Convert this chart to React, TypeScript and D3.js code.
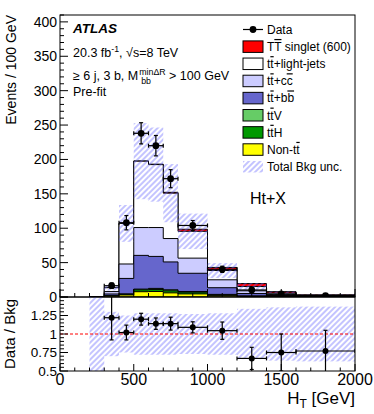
import React from 'react';
import * as d3 from 'd3';

// ---------- data ----------
const binEdges = [200, 300, 400, 500, 600, 700, 800, 1000, 1200, 1400, 1600, 2000];
// individual contributions, events / 100 GeV
const nonTT = [0, 1.5, 3, 7.7, 8, 6, 4.5, 2, 0.8, 0.3, 0.1];
const ttH = [0, 0.2, 1, 2.8, 3, 3, 2.5, 1, 0.4, 0.2, 0.1];
const ttV = [0, 0.2, 0.5, 1, 1.5, 1.5, 1, 0.8, 0.3, 0.1, 0.05];
const ttbb = [0, 2.5, 22.5, 49, 46.5, 40.5, 26.5, 9.7, 3.5, 1.6, 0.55];
const ttcc = [0, 3.5, 21, 40.5, 42, 34, 22, 11.5, 4, 1.3, 0.5];
const ttlight = [0, 5.6, 59, 96.5, 91.5, 66, 39, 13.5, 6.2, 2.4, 1.2];
const signal = [0, 0, 0, 0.3, 0.6, 1.2, 3, 4.5, 4.3, 1.9, 0.7];
const relUnc = [1, 0.3, 0.25, 0.28, 0.28, 0.28, 0.27, 0.28, 0.34, 0.36, 0.37];
const dataVals = [null, 16.4, 108, 238, 220, 172, 104, 40.3, 10.2, 4.4, 1.93];
const dataErr = [0, 4, 10.4, 15.4, 14.8, 13.1, 7.2, 4.5, 2.3, 1.5, 0.7];
const ratioVals = [null, 1.22, 1.02, 1.2, 1.14, 1.14, 1.09, 1.045, 0.67, 0.75, 0.77];
const ratioErr = [0, 0.3, 0.1, 0.08, 0.077, 0.087, 0.075, 0.117, 0.15, 0.25, 0.28];

const mainYTicks = [0, 50, 100, 150, 200, 250, 300, 350, 400];
const ratioYTicks = [0.5, 0.75, 1, 1.25];
const xTicks = [0, 500, 1000, 1500, 2000];

// ---------- layout ----------
const W = 374, H = 414;
const X0 = 60, X1 = 355;
const MT = 15, MB = 297;
const RT = 297, RB = 371;
const FONT = '"Liberation Sans", Arial, Helvetica, sans-serif';

const x = d3.scaleLinear().domain([0, 2000]).range([X0, X1]);
const y = d3.scaleLinear().domain([0, 410]).range([MB, MT]);
const yr = d3.scaleLinear().domain([0.5, 1.5]).range([RB, RT]);

let _ctx: CanvasRenderingContext2D | null = null;
function textW(s: string, size: number, weight = 'normal', style = 'normal') {
  if (!_ctx) _ctx = document.createElement('canvas').getContext('2d');
  if (!_ctx) return s.length * size * 0.55;
  _ctx.font = `${style} ${weight} ${size}px "Liberation Sans"`;
  return _ctx.measureText(s).width;
}

type Part = [string, boolean?];
const Bar = ({ parts }: { parts: Part[] }) => (
  <>
    {parts.map((p, i) => (
      <tspan key={i} style={p[1] ? { textDecoration: 'overline' } : undefined}>{p[0]}</tspan>
    ))}
  </>
);

export default function App() {
  const layers = [
    { name: 'nonTT', vals: nonTT, color: '#ffff00' },
    { name: 'ttH', vals: ttH, color: '#009900' },
    { name: 'ttV', vals: ttV, color: '#66cc66' },
    { name: 'ttbb', vals: ttbb, color: '#6666cc' },
    { name: 'ttcc', vals: ttcc, color: '#ccccff' },
    { name: 'ttlight', vals: ttlight, color: '#ffffff' },
    { name: 'signal', vals: signal, color: '#ff0000' },
  ];
  const cum: number[][] = [];
  let run = nonTT.map(() => 0);
  layers.forEach((l) => {
    run = run.map((r, i) => r + l.vals[i]);
    cum.push(run);
  });
  const totBkg = cum[5];

  const area = d3
    .area<{ e: number; v: number }>()
    .curve(d3.curveStepAfter)
    .x((d) => x(d.e))
    .y0(y(0))
    .y1((d) => y(d.v));
  const stepPath = (tops: number[]) =>
    area(binEdges.map((e, i) => ({ e, v: tops[Math.min(i, tops.length - 1)] }))) || '';

  const mids = binEdges.slice(0, -1).map((e, i) => (e + binEdges[i + 1]) / 2);

  // ticks
  const mainYMinor = d3.range(0, 411, 10).filter((v) => v % 50 !== 0);
  const xMinor = d3.range(0, 2001, 100).filter((v) => v % 500 !== 0);
  const rYMajor = [0.5, 0.75, 1, 1.25, 1.5];
  const rYMinor = d3.range(0.5, 1.5001, 0.05).filter((v) => Math.abs(v * 4 - Math.round(v * 4)) > 1e-6);

  // legend
  const legX = 243, legW = 20, legH = 11.5, legTX = 267;
  const legY0 = 29.5, legDY = 17.15;
  const legendItems: { label: Part[]; color?: string; kind: 'data' | 'box' | 'hatch' }[] = [
    { label: [['Data']], kind: 'data' },
    { label: [['T'], ['T', true], [' singlet (600)']], color: '#ff0000', kind: 'box' },
    { label: [['t'], ['t', true], ['+light-jets']], color: '#ffffff', kind: 'box' },
    { label: [['t'], ['t', true], ['+c'], ['c', true]], color: '#ccccff', kind: 'box' },
    { label: [['t'], ['t', true], ['+b'], ['b', true]], color: '#6666cc', kind: 'box' },
    { label: [['t'], ['t', true], ['V']], color: '#66cc66', kind: 'box' },
    { label: [['t'], ['t', true], ['H']], color: '#009900', kind: 'box' },
    { label: [['Non-t'], ['t', true]], color: '#ffff00', kind: 'box' },
    { label: [['Total Bkg unc.']], kind: 'hatch' },
  ];

  // text line 3 layout
  const TS = 12.5;
  const l3a = '\u2265 6 j, 3 b, M';
  const l3x = 73;
  const l3base = 80;
  const wA = textW(l3a, TS);
  const supW = textW('min\u0394R', 8.8);
  const subW = textW('bb', 8.8) + 3;
  const afterX = l3x + wA + 1 + Math.max(supW, subW) + textW(' ', TS);

  return (
    <svg width={W} height={H} style={{ position: 'absolute', left: 0, top: 0, background: '#fff' }} fontFamily={FONT}>
      <defs>
        <pattern id="hatch" patternUnits="userSpaceOnUse" width="4" height="4" patternTransform="rotate(45)">
          <line x1="2" y1="-1" x2="2" y2="5" stroke="#6a6aff" strokeWidth="0.8" />
        </pattern>
        <clipPath id="clipMain">
          <rect x={X0} y={MT} width={X1 - X0} height={MB - MT} />
        </clipPath>
        <clipPath id="clipRatio">
          <rect x={X0} y={RT} width={X1 - X0} height={RB - RT} />
        </clipPath>
      </defs>
      <rect x={0} y={0} width={W} height={H} fill="#fff" />

      {/* ---------- main panel ---------- */}
      <g clipPath="url(#clipMain)">
        {layers
          .map((l, i) => ({ ...l, tops: cum[i] }))
          .reverse()
          .map((l) => (
            <path key={l.name} d={stepPath(l.tops)} fill={l.color} stroke="#000" strokeWidth={1} />
          ))}
        {totBkg.map((t, i) =>
          t > 0 ? (
            <rect
              key={i}
              x={x(binEdges[i])}
              width={x(binEdges[i + 1]) - x(binEdges[i])}
              y={y(t * (1 + relUnc[i]))}
              height={y(Math.max(0, t * (1 - relUnc[i]))) - y(t * (1 + relUnc[i]))}
              fill="url(#hatch)"
            />
          ) : null
        )}
      </g>
      {/* data points main */}
      <g clipPath="url(#clipMain)">
        {dataVals.map((v, i) => {
          if (v == null) return null;
          const cx = x(mids[i]);
          const cy = y(v);
          const xl = x(binEdges[i]), xr = x(binEdges[i + 1]);
          const yt = y(v + dataErr[i]), yb = y(Math.max(0, v - dataErr[i]));
          return (
            <g key={i} stroke="#000" strokeWidth={1.2}>
              <line x1={xl} x2={xr} y1={cy} y2={cy} />
              <line x1={cx} x2={cx} y1={yt} y2={yb} />
              <line x1={cx - 2} x2={cx + 2} y1={yt} y2={yt} />
              <line x1={cx - 2} x2={cx + 2} y1={yb} y2={yb} />
              <line x1={xl} x2={xl} y1={cy - 2} y2={cy + 2} />
              <line x1={xr} x2={xr} y1={cy - 2} y2={cy + 2} />
              <circle cx={cx} cy={cy} r={3.4} fill="#000" stroke="none" />
            </g>
          );
        })}
      </g>

      {/* main axes */}
      <rect x={X0} y={MT} width={X1 - X0} height={MB - MT} fill="none" stroke="#000" strokeWidth={1} />
      {mainYTicks.map((v) => (
        <g key={v}>
          <line x1={X0} x2={X0 + 8} y1={y(v)} y2={y(v)} stroke="#000" />
          <text x={X0 - 3} y={y(v)} dy="0.36em" textAnchor="end" fontSize={14}>
            {v}
          </text>
        </g>
      ))}
      {mainYMinor.map((v) => (
        <line key={v} x1={X0} x2={X0 + 4} y1={y(v)} y2={y(v)} stroke="#000" />
      ))}
      {xTicks.map((v) => (
        <line key={v} x1={x(v)} x2={x(v)} y1={MB} y2={MB - 8} stroke="#000" />
      ))}
      {xMinor.map((v) => (
        <line key={v} x1={x(v)} x2={x(v)} y1={MB} y2={MB - 4} stroke="#000" />
      ))}
      <text transform={`translate(16,${MT}) rotate(-90)`} textAnchor="end" fontSize={14}>
        Events / 100 GeV
      </text>

      {/* labels */}
      <text x={73} y={32.5} fontSize={13.5} fontWeight="bold" fontStyle="italic">
        ATLAS
      </text>
      <text x={73} y={56.5} fontSize={TS}>
        20.3 fb
        <tspan fontSize={8.8} dy={-5}>
          -1
        </tspan>
        <tspan dy={5}>, {'\u221A'}s=8 TeV</tspan>
      </text>
      <text x={l3x} y={l3base} fontSize={TS}>
        {l3a}
      </text>
      <text x={l3x + wA + 1} y={l3base - 5} fontSize={8.8}>
        min{'\u0394'}R
      </text>
      <text x={l3x + wA + 3} y={l3base + 3.5} fontSize={8.8}>
        bb
      </text>
      <text x={afterX} y={l3base} fontSize={TS}>
        {'> 100 GeV'}
      </text>
      <text x={73} y={95.5} fontSize={TS}>
        Pre-fit
      </text>
      <text x={250} y={204} fontSize={16}>
        Ht+X
      </text>

      {/* legend */}
      {legendItems.map((it, i) => {
        const cy = legY0 + i * legDY;
        return (
          <g key={i}>
            {it.kind === 'data' && (
              <g stroke="#000" strokeWidth={1.2}>
                <line x1={legX} x2={legX + legW} y1={cy} y2={cy} />
                <circle cx={legX + legW / 2} cy={cy} r={3.4} fill="#000" stroke="none" />
              </g>
            )}
            {it.kind === 'box' && (
              <rect x={legX} y={cy - legH / 2} width={legW} height={legH} fill={it.color} stroke="#000" strokeWidth={1} />
            )}
            {it.kind === 'hatch' && (
              <rect x={legX} y={cy - legH / 2} width={legW} height={legH} fill="url(#hatch)" />
            )}
            <text x={legTX} y={cy} dy="0.36em" fontSize={12}>
              <Bar parts={it.label} />
            </text>
          </g>
        );
      })}

      {/* ---------- ratio panel ---------- */}
      <g clipPath="url(#clipRatio)">
        {relUnc.map((u, i) => (
          <rect
            key={i}
            x={x(binEdges[i])}
            width={x(binEdges[i + 1]) - x(binEdges[i])}
            y={yr(1 + u)}
            height={yr(1 - u) - yr(1 + u)}
            fill="url(#hatch)"
          />
        ))}
        <line x1={X0} x2={X1} y1={yr(1)} y2={yr(1)} stroke="#ff0000" strokeWidth={1} strokeDasharray="3,2" />
        {ratioVals.map((v, i) => {
          if (v == null) return null;
          const cx = x(mids[i]);
          const cy = yr(v);
          const xl = x(binEdges[i]), xr = x(binEdges[i + 1]);
          const yt = yr(v + ratioErr[i]), yb = yr(v - ratioErr[i]);
          return (
            <g key={i} stroke="#000" strokeWidth={1.2}>
              <line x1={xl} x2={xr} y1={cy} y2={cy} />
              <line x1={cx} x2={cx} y1={yt} y2={yb} />
              <line x1={cx - 2} x2={cx + 2} y1={yt} y2={yt} />
              <line x1={cx - 2} x2={cx + 2} y1={yb} y2={yb} />
              <line x1={xl} x2={xl} y1={cy - 2} y2={cy + 2} />
              <line x1={xr} x2={xr} y1={cy - 2} y2={cy + 2} />
              <circle cx={cx} cy={cy} r={3} fill="#000" stroke="none" />
            </g>
          );
        })}
      </g>
      <rect x={X0} y={RT} width={X1 - X0} height={RB - RT} fill="none" stroke="#000" strokeWidth={1} />
      {rYMajor.map((v) => (
        <line key={v} x1={X0} x2={X0 + 8} y1={yr(v)} y2={yr(v)} stroke="#000" />
      ))}
      {rYMinor.map((v, i) => (
        <line key={i} x1={X0} x2={X0 + 4} y1={yr(v)} y2={yr(v)} stroke="#000" />
      ))}
      {ratioYTicks.map((v) => (
        <text key={v} x={X0 - 3} y={yr(v)} dy="0.36em" textAnchor="end" fontSize={13.5}>
          {v}
        </text>
      ))}
      {xTicks.map((v) => (
        <g key={v}>
          <line x1={x(v)} x2={x(v)} y1={RB} y2={RB - 7} stroke="#000" />
          <text x={x(v)} y={385} textAnchor="middle" fontSize={16}>
            {v}
          </text>
        </g>
      ))}
      {xMinor.map((v) => (
        <line key={v} x1={x(v)} x2={x(v)} y1={RB} y2={RB - 3.5} stroke="#000" />
      ))}
      <text transform={`translate(15,${(RT + RB) / 2}) rotate(-90)`} textAnchor="middle" fontSize={15}>
        Data / Bkg
      </text>
      <text x={X1} y={404} textAnchor="end" fontSize={17}>
        H<tspan fontSize={12} dy={4}>T</tspan>
        <tspan dy={-4}> [GeV]</tspan>
      </text>
    </svg>
  );
}
